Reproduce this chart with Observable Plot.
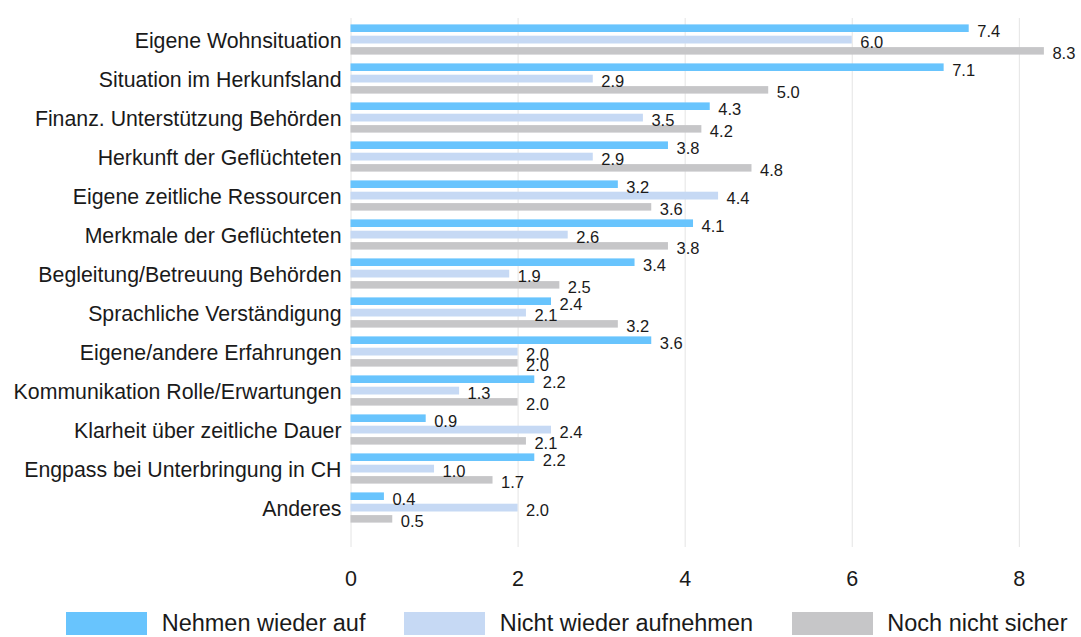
<!DOCTYPE html>
<html>
<head>
<meta charset="utf-8">
<script src="https://cdn.jsdelivr.net/npm/d3@7"></script>
<script src="https://cdn.jsdelivr.net/npm/@observablehq/plot@0.6"></script>
<style>
  html, body { margin: 0; padding: 0; background: #fff; }
  body { width: 1081px; height: 637px; overflow: hidden; font-family: "Liberation Sans", Arial, sans-serif; }
  #legend { display: flex; align-items: center; height: 23px; margin-top: 12px; padding-left: 66px; font-size: 23.5px; color: #1a1a1a; white-space: nowrap; }
  #legend .sw { flex: 0 0 81px; width: 81px; height: 23px; margin-right: 14.7px; }
  #legend .lab { flex: 0 0 auto; margin-right: 38.5px; white-space: nowrap; line-height: 23px; }
  #legend .lab:last-child { margin-right: 0; }
</style>
</head>
<body>
<div id="chart"></div>
<div id="legend"></div>
<script>
const categories = [
  "Eigene Wohnsituation",
  "Situation im Herkunfsland",
  "Finanz. Unterstützung Behörden",
  "Herkunft der Geflüchteten",
  "Eigene zeitliche Ressourcen",
  "Merkmale der Geflüchteten",
  "Begleitung/Betreuung Behörden",
  "Sprachliche Verständigung",
  "Eigene/andere Erfahrungen",
  "Kommunikation Rolle/Erwartungen",
  "Klarheit über zeitliche Dauer",
  "Engpass bei Unterbringung in CH",
  "Anderes"
];
const seriesNames = ["Nehmen wieder auf", "Nicht wieder aufnehmen", "Noch nicht sicher"];
const nehmenWiederAuf     = [7.4, 7.1, 4.3, 3.8, 3.2, 4.1, 3.4, 2.4, 3.6, 2.2, 0.9, 2.2, 0.4];
const nichtWiederAufnehmen = [6.0, 2.9, 3.5, 2.9, 4.4, 2.6, 1.9, 2.1, 2.0, 1.3, 2.4, 1.0, 2.0];
const nochNichtSicher     = [8.3, 5.0, 4.2, 4.8, 3.6, 3.8, 2.5, 3.2, 2.0, 2.0, 2.1, 1.7, 0.5];
const seriesColors = ["#68c4fd", "#c6d9f4", "#c6c6c8"];
const xTicks = [0, 2, 4, 6, 8];

const seriesValues = [nehmenWiederAuf, nichtWiederAufnehmen, nochNichtSicher];
const rows = seriesValues.map(vals => categories.map((c, i) => ({category: c, value: vals[i]})));

// position of each series' bar inside a category band (insets) and its label offset
const barInsets = [[4.4, 27], [15.7, 15.5], [27.1, 4.4]];
const labelDy = [-8.5, 2.6, 14];

const marks = [
  Plot.gridX(xTicks, {stroke: "#e4e4e4", strokeOpacity: 1, strokeWidth: 1})
];
rows.forEach((data, s) => {
  marks.push(Plot.barX(data, {
    x: "value", y: "category", fill: seriesColors[s],
    insetTop: barInsets[s][0], insetBottom: barInsets[s][1]
  }));
});
rows.forEach((data, s) => {
  marks.push(Plot.text(data, {
    x: "value", y: "category", text: d => d.value.toFixed(1),
    dx: 8, dy: labelDy[s], textAnchor: "start", fontSize: 16.5, fill: "#1a1a1a"
  }));
});
marks.push(Plot.axisX(xTicks, {tickSize: 0, tickPadding: 23, fontSize: 21.5, label: null, fill: "#1a1a1a"}));
marks.push(Plot.axisY({tickSize: 0, tickPadding: 9.5, fontSize: 21.3, label: null, dy: 1.5, fill: "#1a1a1a"}));

const chart = Plot.plot({
  width: 1081,
  height: 600,
  marginLeft: 350.5,
  marginRight: 20.4,
  marginTop: 18,
  marginBottom: 53,
  style: {fontFamily: "'Liberation Sans', Arial, sans-serif", background: "#fff", color: "#1a1a1a"},
  x: {domain: [0, 8.5]},
  y: {domain: categories, range: [19.6, 528.4], padding: 0},
  marks
});
document.getElementById("chart").appendChild(chart);

const legend = document.getElementById("legend");
seriesNames.forEach((name, i) => {
  const sw = document.createElement("div");
  sw.className = "sw";
  sw.style.background = seriesColors[i];
  const lab = document.createElement("span");
  lab.className = "lab";
  lab.textContent = name;
  legend.appendChild(sw);
  legend.appendChild(lab);
});
</script>
</body>
</html>
